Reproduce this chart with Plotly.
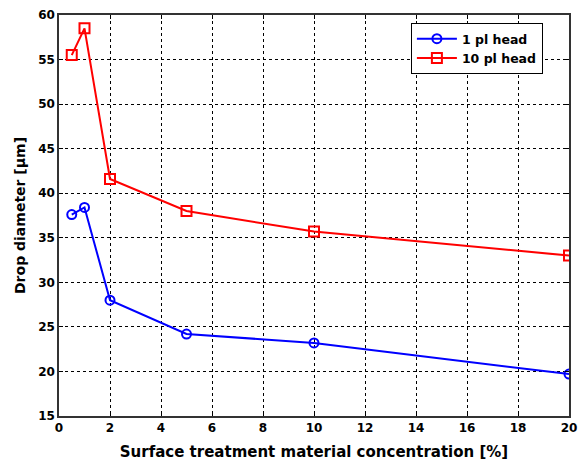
import plotly.graph_objects as go

conc = [0.5, 1, 2, 5, 10, 20]
head1 = [37.6, 38.4, 28.0, 24.2, 23.2, 19.7]
head10 = [55.5, 58.5, 41.6, 38.0, 35.7, 33.0]
x_ticks = [0, 2, 4, 6, 8, 10, 12, 14, 16, 18, 20]
y_ticks = [15, 20, 25, 30, 35, 40, 45, 50, 55, 60]

font_family = "DejaVu Sans, Arial, sans-serif"

fig = go.Figure()
fig.add_trace(go.Scatter(
    x=conc, y=head1, mode="lines+markers", name="<b>1 pl head</b>",
    line=dict(color="#0000ff", width=2),
    marker=dict(symbol="circle-open", size=9, color="#0000ff", line=dict(width=2)),
))
fig.add_trace(go.Scatter(
    x=conc, y=head10, mode="lines+markers", name="<b>10 pl head</b>",
    line=dict(color="#ff0000", width=2),
    marker=dict(symbol="square-open", size=10, color="#ff0000", line=dict(width=2)),
))

axis_common = dict(
    showgrid=True, gridcolor="black", griddash="dot", gridwidth=1,
    showline=True, linecolor="#333333", linewidth=1.5, mirror="ticks",
    ticks="inside", ticklen=4, tickcolor="black",
    zeroline=False, automargin=False,
    tickfont=dict(family=font_family, size=12, color="black", weight="bold"),
)

fig.update_layout(
    width=578, height=461,
    margin=dict(l=59, r=9, t=15, b=45),
    paper_bgcolor="white", plot_bgcolor="white",
    font=dict(family=font_family, color="black"),
    showlegend=True,
    legend=dict(
        x=0.69, y=0.98, xanchor="left", yanchor="top",
        bgcolor="white", bordercolor="black", borderwidth=1,
        font=dict(family=font_family, size=12.5, color="black"),
        tracegroupgap=0, itemwidth=40,
    ),
    xaxis=dict(
        range=[0, 20], tickvals=x_ticks,
        title=dict(text="<b>Surface treatment material concentration [%]</b>",
                   font=dict(family=font_family, size=15, color="black"), standoff=12),
        **axis_common,
    ),
    yaxis=dict(
        range=[15, 60], tickvals=y_ticks,
        title=dict(text="<b>Drop diameter [µm]</b>",
                   font=dict(family=font_family, size=14, color="black"), standoff=9),
        **axis_common,
    ),
)

fig.write_html("out.html", config={"displayModeBar": False},
               post_script="document.body.style.margin='0';")
